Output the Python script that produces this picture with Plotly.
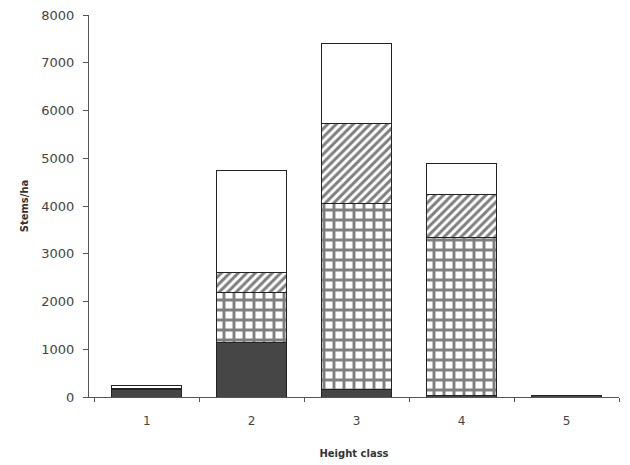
import plotly.graph_objects as go

categories = ["1", "2", "3", "4", "5"]
dark_vals = [150, 1150, 150, 30, 40]
grid_vals = [30, 1030, 3910, 3300, 0]
diag_vals = [0, 420, 1660, 920, 0]
white_vals = [70, 2150, 1680, 650, 0]
y_ticks = [0, 1000, 2000, 3000, 4000, 5000, 6000, 7000, 8000]

fig = go.Figure()
line = dict(color="#222222", width=1)
fig.add_trace(go.Bar(x=categories, y=dark_vals, marker=dict(color="#464646", line=line), name="a"))
fig.add_trace(go.Bar(x=categories, y=grid_vals,
                     marker=dict(color="white", line=line,
                                 pattern=dict(shape="+", fgcolor="#000000", bgcolor="white",
                                              size=10, solidity=0.5)), name="b"))
fig.add_trace(go.Bar(x=categories, y=diag_vals,
                     marker=dict(color="white", line=line,
                                 pattern=dict(shape="/", fgcolor="#000000", bgcolor="white",
                                              size=6, solidity=0.5)), name="c"))
fig.add_trace(go.Bar(x=categories, y=white_vals, marker=dict(color="white", line=line), name="d"))

fig.update_layout(
    barmode="stack", bargap=0.33, showlegend=False,
    width=622, height=457,
    margin=dict(l=81, r=11, t=7, b=68),
    paper_bgcolor="white", plot_bgcolor="white",
    font=dict(family="DejaVu Sans, Liberation Sans, sans-serif", size=12, color="#333333"),
)
fig.update_xaxes(type="category", range=[-0.55, 4.5], showline=True, linecolor="#555555", linewidth=1,
                 ticks="outside", tickson="boundaries", ticklen=4, tickcolor="#555555",
                 showgrid=False, automargin=False, ticklabelstandoff=13,
                 tickfont=dict(size=12, color="#444444"),
                 title=dict(text="<b>Height class</b>", font=dict(size=10, color="#333333"), standoff=22))
fig.update_yaxes(range=[0, 8000], tickvals=y_ticks, showline=True, linecolor="#555555", linewidth=1,
                 ticks="outside", ticklen=5, tickcolor="#555555", showgrid=False, zeroline=False,
                 automargin=False, ticklabelstandoff=6, ticklabeloverflow="allow",
                 tickfont=dict(size=13, color="#444444"),
                 title=dict(text="<b>Stems/ha</b>", font=dict(size=10, color="#333333"), standoff=10))

fig.write_html("out.html")
